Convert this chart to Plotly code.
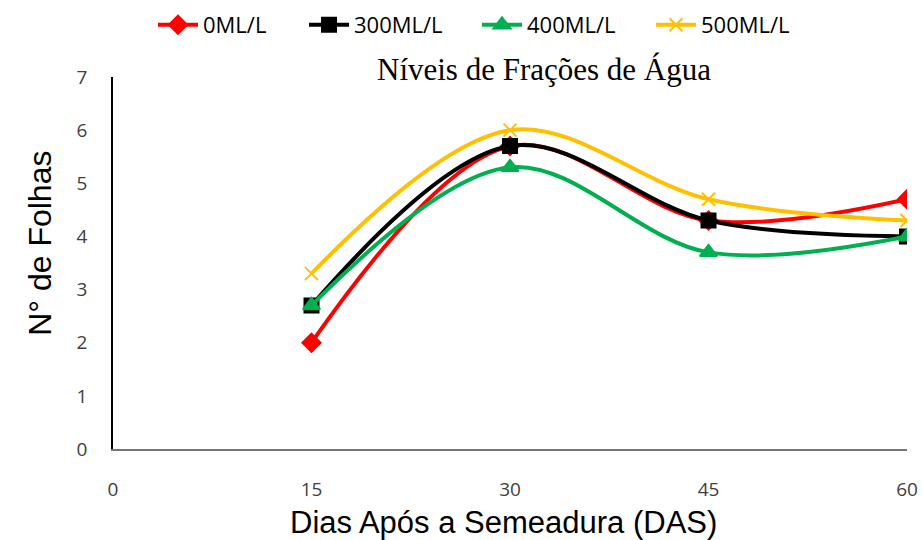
import plotly.graph_objects as go

days = [15, 30, 45, 60]
s0 = [2.0, 5.7, 4.3, 4.7]
s300 = [2.7, 5.7, 4.3, 4.0]
s400 = [2.7, 5.3, 3.7, 4.0]
s500 = [3.3, 6.0, 4.7, 4.3]
names = ["0ML/L", "300ML/L", "400ML/L", "500ML/L"]
x_ticks = [0, 15, 30, 45, 60]
y_ticks = [0, 1, 2, 3, 4, 5, 6, 7]

fig = go.Figure()
styles = [
    (s0, "#FF0000", "diamond", 14),
    (s300, "#000000", "square", 14),
    (s400, "#00B050", "triangle-up", 15),
    (s500, "#FFC000", "x-thin", 13),
]
legend_ids = ["legend", "legend2", "legend3", "legend4"]
text_starts = [203, 354, 527, 701]
for (vals, col, sym, sz), nm, lid in zip(styles, names, legend_ids):
    fig.add_trace(go.Scatter(
        x=days, y=vals, name=nm, mode="lines+markers", legend=lid,
        line=dict(color=col, width=4, shape="spline", smoothing=1.0),
        marker=dict(symbol=sym, size=sz, color=col, line=dict(color=col, width=2)),
    ))

legend_layout = {}
for lid, ts in zip(legend_ids, text_starts):
    legend_layout[lid] = dict(
        orientation="h", xref="container", x=(ts - 50) / 923, xanchor="left",
        yref="container", y=1 - 25 / 540, yanchor="middle",
        font=dict(family="Open Sans", size=22, color="#000000"),
        itemwidth=40, bgcolor="rgba(0,0,0,0)",
    )

fig.update_layout(
    width=923, height=540,
    margin=dict(l=113, r=16, t=77, b=91, autoexpand=False),
    paper_bgcolor="white", plot_bgcolor="white",
    showlegend=True,
    annotations=[
        dict(text="Níveis de Frações de Água", x=0.543, xref="paper", y=1.019, yref="paper",
             xanchor="center", yanchor="middle", showarrow=False,
             font=dict(family="Liberation Serif", size=31, color="#000")),
        dict(text="Dias Após a Semeadura (DAS)", x=0.492, xref="paper", y=-0.198, yref="paper",
             xanchor="center", yanchor="middle", showarrow=False,
             font=dict(family="Liberation Sans", size=31, color="#000")),
        dict(text="N° de Folhas", x=-0.092, xref="paper", y=0.554, yref="paper",
             xanchor="center", yanchor="middle", showarrow=False, textangle=-90,
             font=dict(family="Liberation Sans", size=32, color="#000")),
    ],
    **legend_layout,
)

fig.update_xaxes(range=[0, 60], tickvals=x_ticks, ticktext=[str(v) for v in x_ticks],
                 showgrid=False, zeroline=False, showline=True, linecolor="#767676", linewidth=1.5,
                 ticks="", ticklabelstandoff=22, automargin=False,
                 tickfont=dict(family="Open Sans", size=19, color="#404040"))
fig.update_yaxes(range=[0, 7], tickvals=y_ticks, showgrid=False, zeroline=False,
                 showline=True, linecolor="#000000", linewidth=1.5, ticks="",
                 ticklabelstandoff=20, automargin=False,
                 tickfont=dict(family="Open Sans", size=19, color="#404040"))

fig.write_html("out.html")
